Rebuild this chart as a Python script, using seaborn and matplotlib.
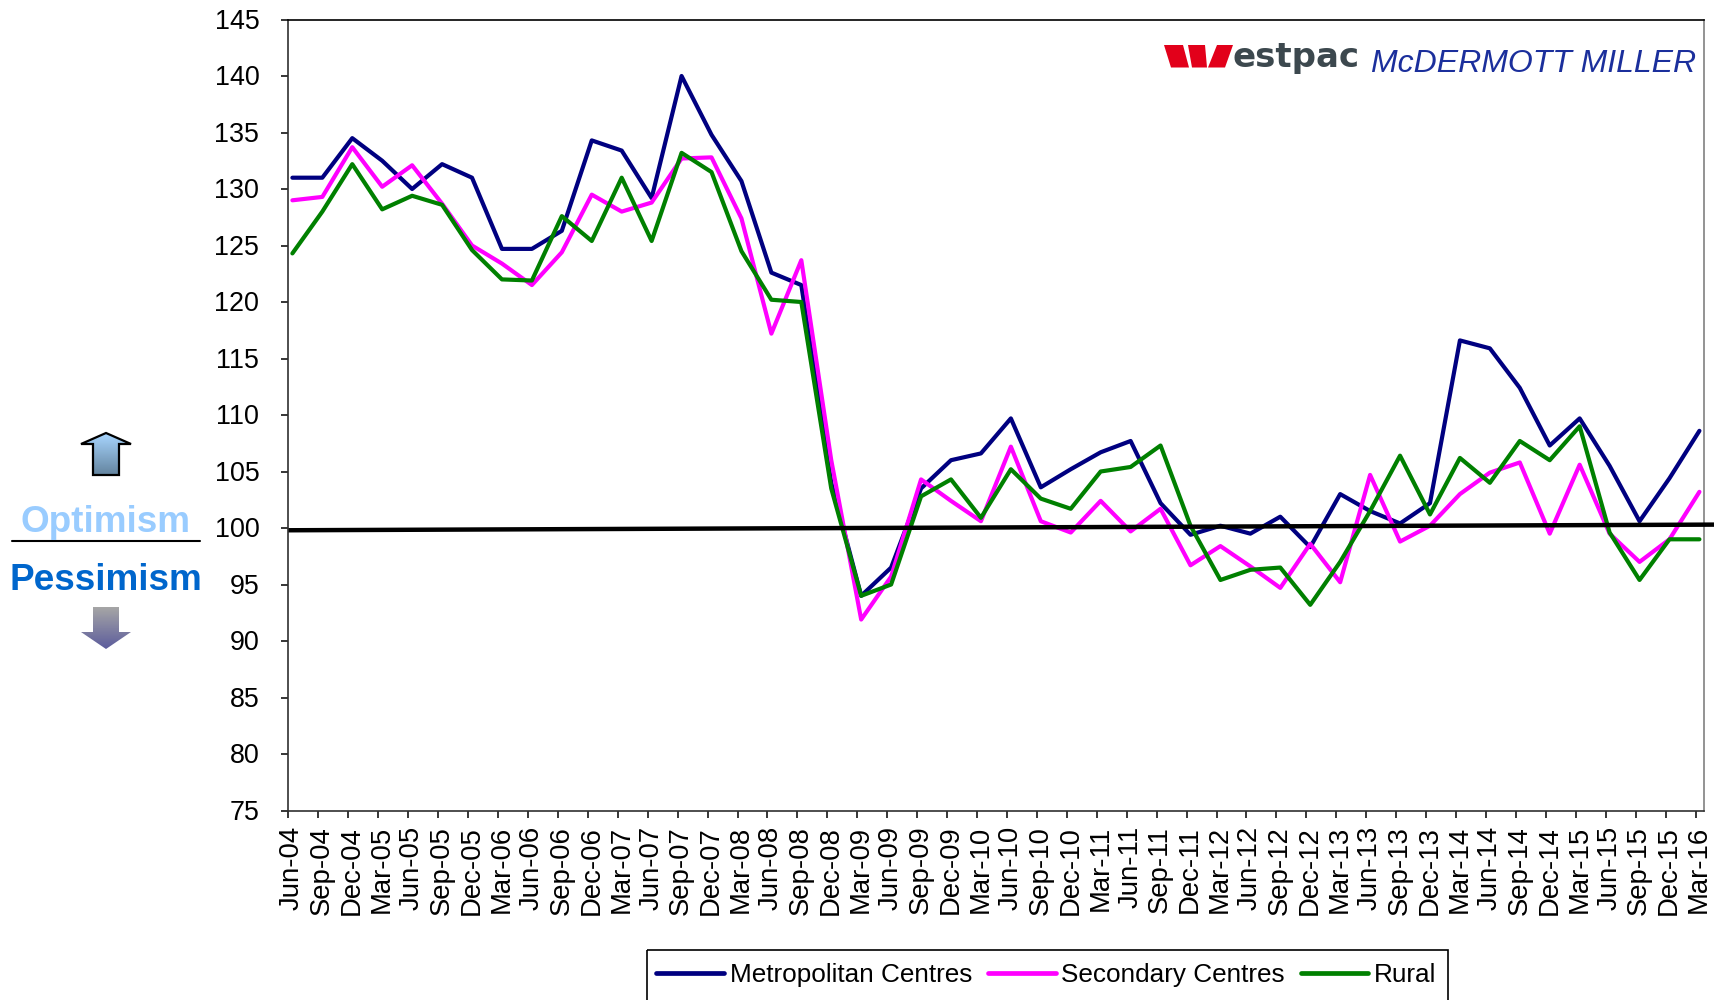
import numpy as np
import pandas as pd
import matplotlib
matplotlib.use("Agg")
import matplotlib.pyplot as plt
from matplotlib.colors import LinearSegmentedColormap
from matplotlib.patches import Polygon, Rectangle
from matplotlib.lines import Line2D
from matplotlib.transforms import ScaledTranslation
import seaborn as sns

quarters = ["Jun-04","Sep-04","Dec-04","Mar-05","Jun-05","Sep-05","Dec-05","Mar-06","Jun-06","Sep-06","Dec-06","Mar-07",
            "Jun-07","Sep-07","Dec-07","Mar-08","Jun-08","Sep-08","Dec-08","Mar-09","Jun-09","Sep-09","Dec-09","Mar-10",
            "Jun-10","Sep-10","Dec-10","Mar-11","Jun-11","Sep-11","Dec-11","Mar-12","Jun-12","Sep-12","Dec-12","Mar-13",
            "Jun-13","Sep-13","Dec-13","Mar-14","Jun-14","Sep-14","Dec-14","Mar-15","Jun-15","Sep-15","Dec-15","Mar-16"]
metropolitan = [131,131,134.5,132.5,130,132.2,131,124.7,124.7,126.3,134.3,133.4,129.2,140,134.8,130.7,122.6,121.5,104,94,
                96.5,103.5,106,106.6,109.7,103.6,105.2,106.7,107.7,102.2,99.4,100.2,99.5,101,98.3,103,101.5,100.4,102.2,
                116.6,115.9,112.4,107.3,109.7,105.5,100.6,104.4,108.6]
secondary = [129,129.3,133.7,130.2,132.1,128.7,125,123.4,121.5,124.4,129.5,128,128.8,132.7,132.8,127.4,117.2,123.7,106,91.9,
             95.7,104.3,102.4,100.6,107.2,100.6,99.6,102.4,99.7,101.7,96.7,98.4,96.6,94.7,98.6,95.2,104.7,98.8,100.2,
             103,104.9,105.8,99.5,105.6,99.5,97,99,103.2]
rural = [124.3,128,132.2,128.2,129.4,128.6,124.6,122,121.9,127.6,125.4,131,125.4,133.2,131.5,124.5,120.2,120,103.5,94,
         95,102.8,104.3,100.9,105.2,102.6,101.7,105,105.4,107.3,100.2,95.4,96.3,96.5,93.2,97,101.5,106.4,101.2,
         106.2,104,107.7,106,109,99.6,95.4,99,99]
series_names = ["Metropolitan Centres", "Secondary Centres", "Rural"]
series_colors = ["#000080", "#FF00FF", "#008000"]
y_ticks = list(range(75, 150, 5))
neutral_x = [-0.13, 47.55]
neutral_y = [99.8, 100.3]

sns.set_style("white")
plt.rcParams["font.family"] = ["Liberation Sans", "DejaVu Sans"]

W, H = 1715, 1000
fig = plt.figure(figsize=(W / 100, H / 100), dpi=100)
ax = fig.add_axes([288.5 / W, 1 - 810.5 / H, (1704.5 - 288.5) / W, (810.5 - 19.5) / H])

df = pd.DataFrame({"x": np.arange(len(quarters)), "Metropolitan Centres": metropolitan,
                   "Secondary Centres": secondary, "Rural": rural})
long = df.melt("x", var_name="series", value_name="value")
sns.lineplot(data=long, x="x", y="value", hue="series", hue_order=series_names,
             palette=series_colors, lw=3.0, legend=False, ax=ax, errorbar=None)
ax.plot(neutral_x, neutral_y, color="black", lw=3.2, clip_on=False, zorder=5, solid_capstyle="butt")

ax.set_xlim(-0.13, 47.17)
ax.set_ylim(75, 145)
ax.set_xlabel("")
ax.set_ylabel("")
ax.set_yticks(y_ticks)
ax.set_xticks(np.arange(len(quarters)) - 0.13)
ax.set_xticklabels(quarters, rotation=90, ha="center", va="top")
ax.tick_params(axis="x", direction="out", length=5, width=1.1, color="black",
               labelsize=19.8, labelcolor="black", bottom=True, pad=6)
ax.tick_params(axis="y", direction="out", length=5, width=1.1, color="black",
               labelsize=19.4, labelcolor="black", left=True, pad=16)
shift = ScaledTranslation(3.5 / 100, 0, fig.dpi_scale_trans)
for lab in ax.get_xticklabels():
    lab.set_transform(lab.get_transform() + shift)
down = ScaledTranslation(0, 0.7 / 100, fig.dpi_scale_trans)
for lab in ax.get_yticklabels():
    lab.set_transform(lab.get_transform() + down)
for s in ["left", "bottom", "top"]:
    ax.spines[s].set_visible(True)
    ax.spines[s].set_color("black" if s == "top" else "#303030")
    ax.spines[s].set_linewidth(1.2)
ax.spines["right"].set_visible(True)
ax.spines["right"].set_color("#808080")
ax.spines["right"].set_linewidth(1.2)

# Pixel-coordinate overlay for annotations
ov = fig.add_axes([0, 0, 1, 1], zorder=10)
ov.set_xlim(0, W)
ov.set_ylim(H, 0)
ov.axis("off")
ov.patch.set_alpha(0)

handles = [Line2D([0], [0], color=c, lw=3.4) for c in series_colors]
# legend frame, cut off by the lower image edge as in the reference
ov.add_patch(Rectangle((647, 950), 801, 60, fill=False, ec="black", lw=1.2, clip_on=True))
ov.legend(handles, series_names, loc="upper left", bbox_to_anchor=(656 / W, 1 - 963 / H),
          bbox_transform=fig.transFigure, frameon=False, ncol=3, fontsize=18.8, borderpad=0,
          handlelength=2.6, handletextpad=0.22, columnspacing=0.6, borderaxespad=0, labelcolor="black")

ov.text(106, 522, "Optimism", color="#99CCFF", fontsize=26.6, fontweight="bold", ha="center", va="center")
ov.text(106, 580, "Pessimism", color="#0066CC", fontsize=26.6, fontweight="bold", ha="center", va="center")
ov.plot([12, 200], [540.5, 540.5], color="black", lw=1.5)


def grad_poly(pts, top, bottom, edge=None):
    pts = np.array(pts, float)
    cm = LinearSegmentedColormap.from_list("g", [top, bottom])
    ext = (pts[:, 0].min(), pts[:, 0].max(), pts[:, 1].max(), pts[:, 1].min())
    im = ov.imshow(np.linspace(0, 1, 64)[:, None], cmap=cm, extent=ext, aspect="auto", zorder=3)
    pg = Polygon(pts, closed=True, transform=ov.transData, fc="none", ec=edge or "none", lw=1.6, zorder=4)
    ov.add_patch(pg)
    im.set_clip_path(pg)


grad_poly([(106, 433), (131, 444), (119, 444), (119, 475), (93, 475), (93, 444), (81, 444)], "#A8D6FF", "#64849F", "black")
grad_poly([(93, 607), (119, 607), (119, 632), (131, 632), (106, 649), (81, 632), (93, 632)], "#A6A6A6", "#5C5C9C")
ov.set_xlim(0, W)
ov.set_ylim(H, 0)

# Logo
for poly in ([(1164, 45), (1183, 45), (1189, 67.5), (1171, 67.5)],
             [(1188, 45), (1205, 45), (1207, 67.5), (1192, 67.5)],
             [(1217, 45), (1233, 45), (1225, 67.5), (1208, 67.5)]):
    ov.add_patch(Polygon(poly, closed=True, fc="#E2001A", ec="none", zorder=4))
ov.text(1233, 67.5, "estpac", color="#3C484E", fontsize=24.5, fontweight="bold", family="DejaVu Sans",
        ha="left", va="baseline")
ov.text(1371, 72, "McDERMOTT MILLER", color="#1B2F9C", fontsize=23, style="italic", family="Liberation Sans",
        ha="left", va="baseline")

fig.savefig("out.png", dpi=100, facecolor="white")
